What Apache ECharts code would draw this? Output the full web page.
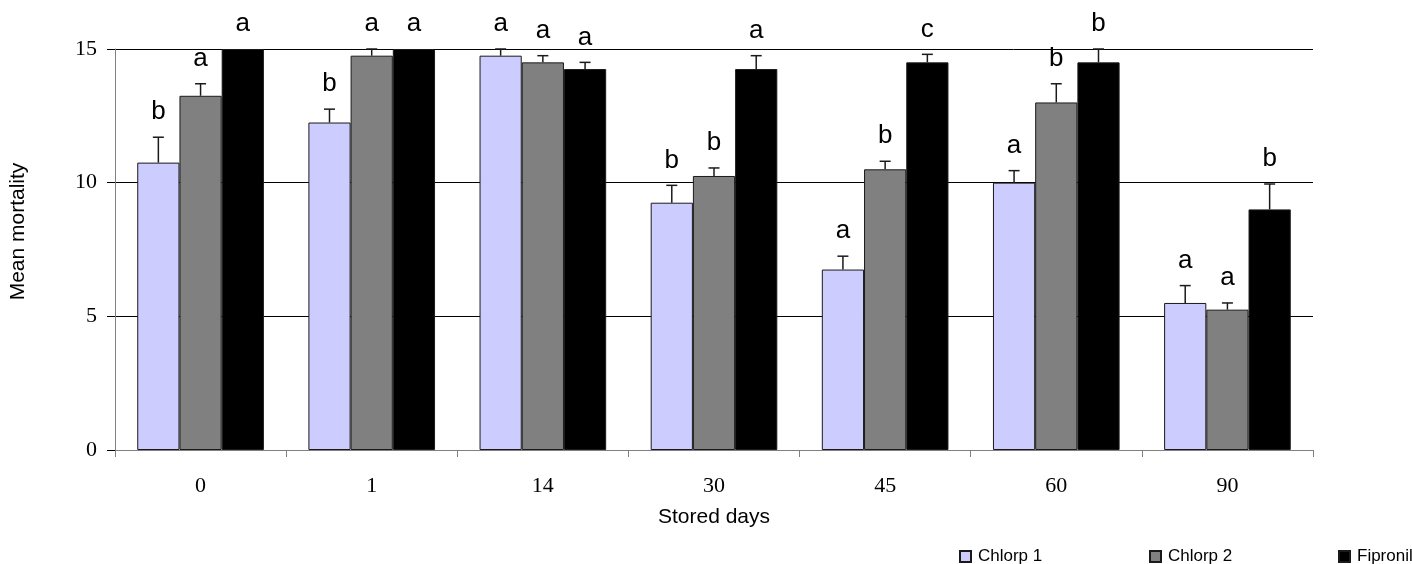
<!DOCTYPE html>
<html>
<head>
<meta charset="utf-8">
<script src="https://cdn.jsdelivr.net/npm/echarts@6/dist/echarts.min.js"></script>
<style>
html,body{margin:0;padding:0;background:#fff;}
#c{width:1412px;height:564px;}
</style>
</head>
<body>
<div id="c"></div>
<script>
const categories = ['0', '1', '14', '30', '45', '60', '90'];
const seriesNames = ['Chlorp 1', 'Chlorp 2', 'Fipronil'];
const chlorp1 = [10.75, 12.25, 14.75, 9.25, 6.75, 10.0, 5.5];
const chlorp2 = [13.25, 14.75, 14.5, 10.25, 10.5, 13.0, 5.25];
const fipronil = [15.0, 15.0, 14.25, 14.25, 14.5, 14.5, 9.0];
const chlorp1Err = [0.95, 0.5, 0.25, 0.65, 0.5, 0.45, 0.65];
const chlorp2Err = [0.45, 0.25, 0.25, 0.3, 0.3, 0.7, 0.25];
const fipronilErr = [0, 0, 0.25, 0.5, 0.3, 0.5, 0.95];
const chlorp1Letters = ['b', 'b', 'a', 'b', 'a', 'a', 'a'];
const chlorp2Letters = ['a', 'a', 'a', 'b', 'b', 'b', 'a'];
const fipronilLetters = ['a', 'a', 'a', 'a', 'c', 'b', 'b'];
const yTicks = [0, 5, 10, 15];

const values = [chlorp1, chlorp2, fipronil];
const errs = [chlorp1Err, chlorp2Err, fipronilErr];
const letters = [chlorp1Letters, chlorp2Letters, fipronilLetters];
const colors = ['#CCCCFF', '#808080', '#000000'];
const CAT_GAP = 0.26;

const chart = echarts.init(document.getElementById('c'), null, {renderer: 'canvas'});

function makeErrRender(si) {
  return function (params, api) {
    const ci = api.value(0);
    const v = api.value(1);
    const e = api.value(2);
    const W = api.size([1, 0])[0];
    const bw = W * (1 - CAT_GAP) / 3;
    const base = api.coord([ci, v]);
    const top = api.coord([ci, v + e]);
    const x = base[0] + (si - 1) * bw;
    const children = [];
    if (e > 0) {
      children.push({type: 'line', shape: {x1: x, y1: base[1], x2: x, y2: top[1]},
        style: {stroke: '#1a1a1a', lineWidth: 1.5}});
      children.push({type: 'line', shape: {x1: x - 5.5, y1: top[1], x2: x + 5.5, y2: top[1]},
        style: {stroke: '#1a1a1a', lineWidth: 1.5}});
    }
    children.push({type: 'text', style: {
      text: letters[si][ci], x: x, y: top[1] - 12,
      align: 'center', verticalAlign: 'bottom',
      fontSize: 26, fontFamily: 'Liberation Sans, Arial, sans-serif', fill: '#000'
    }});
    return {type: 'group', children: children};
  };
}

const barSeries = values.map((vals, si) => ({
  name: seriesNames[si],
  type: 'bar',
  data: vals,
  barGap: '0%',
  barCategoryGap: (CAT_GAP * 100) + '%',
  itemStyle: {color: colors[si], borderColor: '#1a1a1a', borderWidth: 1},
  emphasis: {disabled: true},
  animation: false
}));

const errSeries = values.map((vals, si) => ({
  type: 'custom',
  renderItem: makeErrRender(si),
  data: vals.map((v, i) => [i, v, errs[si][i]]),
  encode: {x: 0, y: 1},
  z: 10,
  clip: false,
  silent: true,
  animation: false
}));

const legendLefts = [954, 1144, 1333];
const option = {
  backgroundColor: '#fff',
  animation: false,
  grid: {left: 115, right: 99, top: 49, bottom: 114},
  legend: seriesNames.map((n, i) => ({
    data: [n], left: legendLefts[i], top: 543,
    icon: 'rect', itemWidth: 11, itemHeight: 11, itemGap: 7,
    textStyle: {fontFamily: 'Liberation Sans, Arial, sans-serif', fontSize: 17, color: '#000', padding: [0, 0, 0, 2]},
    selectedMode: false
  })),
  xAxis: {
    type: 'category',
    data: categories,
    name: 'Stored days',
    nameLocation: 'middle',
    nameGap: 57,
    nameTextStyle: {fontFamily: 'Liberation Sans, Arial, sans-serif', fontSize: 21, color: '#000'},
    axisLine: {lineStyle: {color: '#808080', width: 1}},
    axisTick: {show: true, length: 7, lineStyle: {color: '#808080'}},
    axisLabel: {fontFamily: 'Liberation Serif, Times New Roman, serif', fontSize: 22, color: '#000', margin: 25}
  },
  yAxis: {
    type: 'value',
    min: 0, max: 15, interval: 5,
    name: 'Mean mortality',
    nameLocation: 'middle',
    nameGap: 86,
    nameTextStyle: {fontFamily: 'Liberation Sans, Arial, sans-serif', fontSize: 21, color: '#000', padding: [0, 0, 0, 36]},
    axisLine: {show: true, lineStyle: {color: '#808080', width: 1}},
    axisTick: {show: true, length: 8, lineStyle: {color: '#000'}},
    splitLine: {show: true, lineStyle: {color: '#000', width: 1}},
    axisLabel: {fontFamily: 'Liberation Serif, Times New Roman, serif', fontSize: 22, color: '#000', margin: 18,
      formatter: v => (yTicks.indexOf(v) >= 0 ? String(v) : '')}
  },
  series: barSeries.concat(errSeries)
};
chart.setOption(option);
</script>
</body>
</html>
